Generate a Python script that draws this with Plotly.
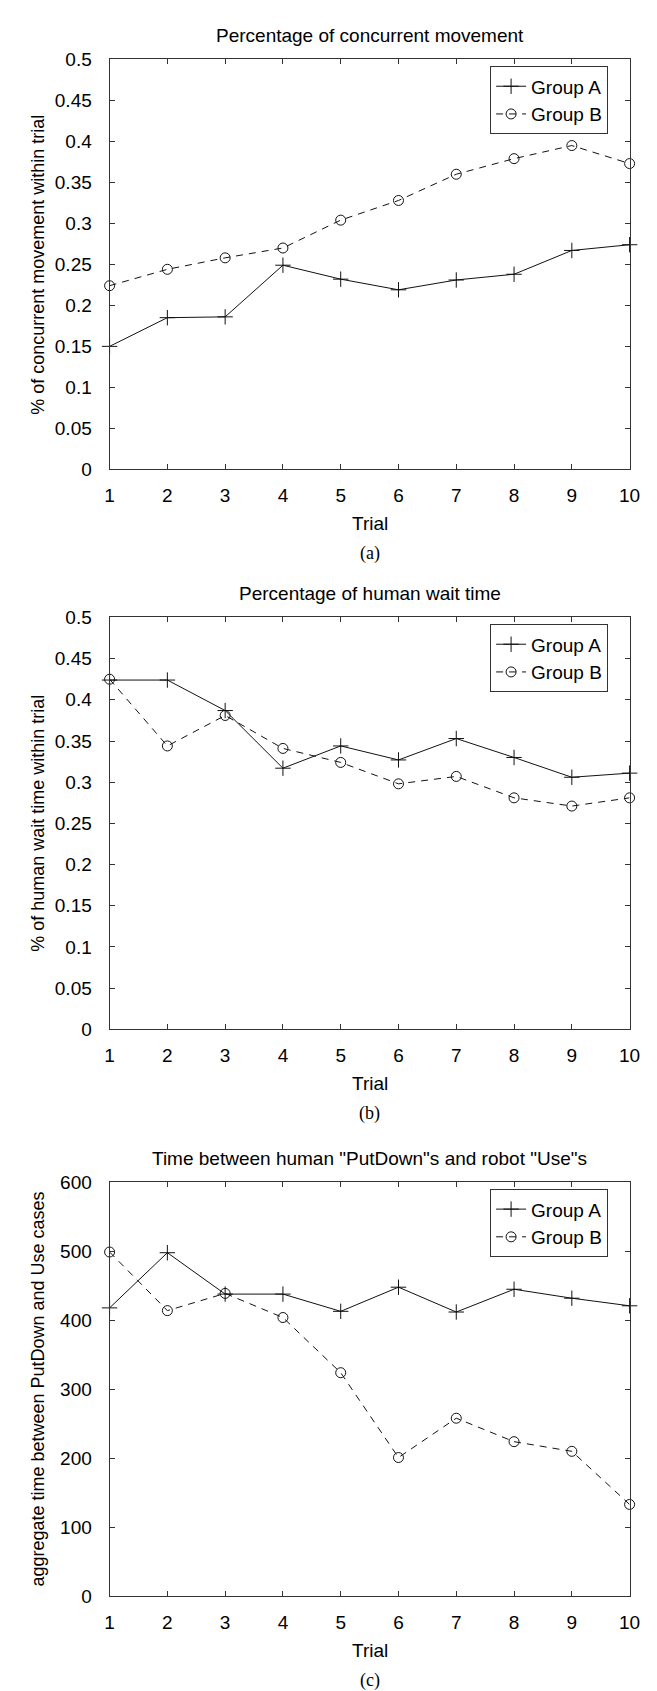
import plotly.graph_objects as go

trials = [1, 2, 3, 4, 5, 6, 7, 8, 9, 10]

# (a) Percentage of concurrent movement
conc_a = [0.150, 0.185, 0.186, 0.249, 0.232, 0.219, 0.231, 0.238, 0.267, 0.274]
conc_b = [0.224, 0.244, 0.258, 0.270, 0.304, 0.328, 0.360, 0.379, 0.395, 0.373]

# (b) Percentage of human wait time
wait_a = [0.424, 0.424, 0.387, 0.317, 0.344, 0.327, 0.353, 0.330, 0.306, 0.311]
wait_b = [0.425, 0.344, 0.381, 0.341, 0.324, 0.298, 0.307, 0.281, 0.271, 0.281]

# (c) Time between human "PutDown"s and robot "Use"s
time_a = [418, 498, 438, 438, 413, 448, 412, 445, 432, 421]
time_b = [499, 414, 439, 404, 324, 201, 258, 224, 210, 133]

pct_ticks = [0, 0.05, 0.1, 0.15, 0.2, 0.25, 0.3, 0.35, 0.4, 0.45, 0.5]
time_ticks = [0, 100, 200, 300, 400, 500, 600]

titles = ["Percentage of concurrent movement",
          "Percentage of human wait time",
          "Time between human \"PutDown\"s and robot \"Use\"s"]
ylabels = ["% of concurrent movement within trial",
           "% of human wait time within trial",
           "aggregate time between PutDown and Use cases"]
captions = ["(a)", "(b)", "(c)"]

W, H = 657, 1691
FONT = "Liberation Sans, Arial, sans-serif"

# pixel layout (top, bottom of plot areas)
panels = [(42, 457), (607, 1024), (1179, 1598)]
xl, xr = 99, 632

def py(p):
    return 1 - p / H

fig = go.Figure()

series = [(conc_a, conc_b, pct_ticks), (wait_a, wait_b, pct_ticks), (time_a, time_b, time_ticks)]

for i, (ya, yb, ticks) in enumerate(series):
    n = "" if i == 0 else str(i + 1)
    xa = "x" + n
    yax = "y" + n
    leg = "legend" + n
    fig.add_trace(go.Scatter(
        x=trials, y=ya, name="Group A", mode="lines+markers",
        line=dict(color="#111111", width=1),
        marker=dict(symbol="cross-thin-open", size=11, color="#111111",
                    line=dict(color="#111111", width=1)),
        xaxis=xa, yaxis=yax, legend=leg, cliponaxis=False))
    fig.add_trace(go.Scatter(
        x=trials, y=yb, name="Group B", mode="lines+markers",
        line=dict(color="#111111", width=1, dash="7px,6px"),
        marker=dict(symbol="circle-open", size=10, color="#111111",
                    line=dict(color="#111111", width=1)),
        xaxis=xa, yaxis=yax, legend=leg, cliponaxis=False))

    top, bot = panels[i]
    axis_common = dict(showline=True, linecolor="#333333", linewidth=1,
                       mirror="ticks", ticks="inside", ticklen=5,
                       tickcolor="#333333", showgrid=False, zeroline=False,
                       tickfont=dict(family=FONT, size=19, color="black"))
    fig.layout["xaxis" + n] = dict(
        axis_common, domain=[xl / W, xr / W], anchor=yax, ticklabelstandoff=9,
        range=[1, 10], tickvals=trials, ticktext=[str(t) for t in trials])
    fig.layout["yaxis" + n] = dict(
        axis_common, domain=[py(bot), py(top)], anchor=xa, ticklabelstandoff=13,
        range=[ticks[0], ticks[-1]], tickvals=ticks,
        ticktext=[f"{t:g}" for t in ticks])

    fig.layout[leg] = dict(
        x=489 / W, y=py(top + 7), xanchor="left", yanchor="top",
        bgcolor="white", bordercolor="#333333", borderwidth=1,
        font=dict(family=FONT, size=19, color="black"),
        tracegroupgap=0, itemwidth=30)

    cx = (xl + xr) / 2
    fig.add_annotation(text=titles[i], x=cx / W, y=py(top - 24), xref="paper", yref="paper",
                       showarrow=False, xanchor="center", yanchor="middle",
                       font=dict(family=FONT, size=19, color="black"))
    fig.add_annotation(text="Trial", x=cx / W, y=py(bot + 55), xref="paper", yref="paper",
                       showarrow=False, xanchor="center", yanchor="middle",
                       font=dict(family=FONT, size=19, color="black"))
    fig.add_annotation(text=captions[i], x=cx / W, y=py(bot + 85), xref="paper", yref="paper",
                       showarrow=False, xanchor="center", yanchor="middle",
                       font=dict(family="Liberation Serif, Times New Roman, serif", size=18, color="black"))
    fig.add_annotation(text=ylabels[i], x=26 / W, y=py((top + bot) / 2), xref="paper", yref="paper",
                       showarrow=False, xanchor="center", yanchor="middle", textangle=-90,
                       font=dict(family=FONT, size=18, color="black"))

fig.update_layout(width=W, height=H, margin=dict(l=0, r=0, t=0, b=0),
                  paper_bgcolor="white", plot_bgcolor="white", showlegend=True)

fig.write_html("out.html")
